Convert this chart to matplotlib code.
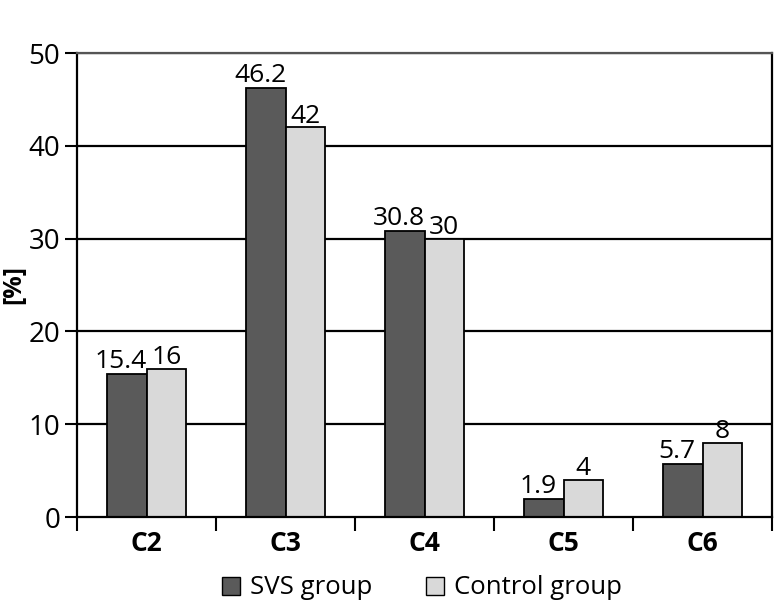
import numpy as np
import matplotlib
matplotlib.use('Agg')
import matplotlib.pyplot as plt
from matplotlib.patches import Patch

# Data
categories = ["C2", "C3", "C4", "C5", "C6"]
svs_group = [15.4, 46.2, 30.8, 1.9, 5.7]
control_group = [16, 42, 30, 4, 8]
svs_labels = ["15.4", "46.2", "30.8", "1.9", "5.7"]
control_labels = ["16", "42", "30", "4", "8"]
y_ticks = [0, 10, 20, 30, 40, 50]

plt.rcParams['font.family'] = ['Open Sans', 'DejaVu Sans']

fig = plt.figure(figsize=(7.74, 6.04), dpi=100)
ax = fig.add_axes([77 / 774, 1 - 517 / 604, 695 / 774, 464 / 604])

x = np.arange(len(categories))
w = 0.285
dark = "#5a5a5a"
light = "#d9d9d9"

ax.set_axisbelow(True)
for v in y_ticks[1:]:
    ax.axhline(v, color="black", lw=1.6, zorder=0)

ax.bar(x - w / 2, svs_group, w, color=dark, edgecolor="black", lw=1.3, zorder=2)
ax.bar(x + w / 2, control_group, w, color=light, edgecolor="black", lw=1.3, zorder=2)

# value labels, SVS ones nudged left like the original
for xi, v, s in zip(x, svs_group, svs_labels):
    ax.text(xi - w / 2 - 0.04, v + 0.7, s, ha="center", va="baseline", fontsize=19)
for xi, v, s in zip(x, control_group, control_labels):
    ax.text(xi + w / 2, v + 0.5, s, ha="center", va="baseline", fontsize=19)

ax.set_xlim(-0.5, len(categories) - 0.5)
ax.set_ylim(0, 50)
ax.set_yticks(y_ticks)
ax.set_yticklabels([str(t) for t in y_ticks], fontsize=20)
ax.tick_params(axis="y", length=9, width=1.5, direction="out", pad=3)

# category labels between boundary ticks
ax.set_xticks(np.arange(-0.5, len(categories), 1.0))
ax.set_xticklabels([])
ax.tick_params(axis="x", length=10, width=1.5, direction="out")
for xi, c in zip(x, categories):
    ax.text(xi, -1.4, c, ha="center", va="top", fontsize=19, fontweight="bold")

for side in ["left", "right", "bottom"]:
    ax.spines[side].set_linewidth(1.6)
    ax.spines[side].set_color("black")
ax.spines["top"].set_color("#555555")
ax.spines["top"].set_linewidth(1.6)

ax.set_ylabel("[%]", fontsize=18, fontweight="bold")
ax.yaxis.set_label_coords(-51 / 695, 0.5)

handles = [Patch(facecolor=dark, edgecolor="black", lw=1.0),
           Patch(facecolor=light, edgecolor="black", lw=1.0)]
fig.legend(handles, ["SVS group", "Control group"], loc="center",
           bbox_to_anchor=(422 / 774, 1 - 588 / 604), ncol=2, frameon=False,
           fontsize=18.5, handlelength=0.7, handleheight=0.7, handletextpad=0.4,
           columnspacing=2.1)

plt.savefig("out.png", dpi=100)
